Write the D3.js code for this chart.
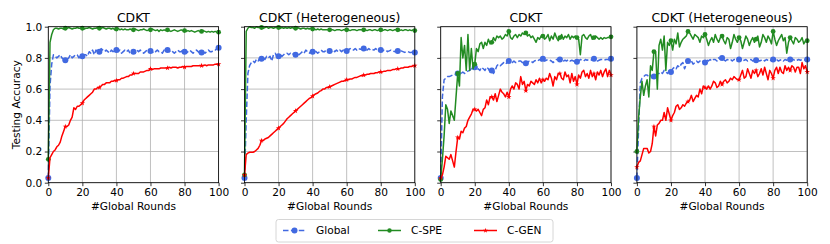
<!DOCTYPE html>
<html>
<head>
<meta charset="utf-8">
<script src="https://cdn.jsdelivr.net/npm/d3@7"></script>
<style>
  body { margin: 0; background: #fff; }
  svg text { font-family: "DejaVu Sans", sans-serif; fill: #000; }
</style>
</head>
<body>
<svg id="svg" width="830" height="244"></svg>
<script>
// rounds 0..100
const rounds = d3.range(0, 101);
const titles = ["CDKT", "CDKT (Heterogeneous)", "CDKT", "CDKT (Heterogeneous)"];
const xTicks = [0, 20, 40, 60, 80, 100];
const yTicks = [0.0, 0.2, 0.4, 0.6, 0.8, 1.0];
const seriesNames = ["Global", "C-SPE", "C-GEN"];

// panel 1 : CDKT
const p1Global = [0.03,0.62,0.76,0.82,0.81,0.80,0.81,0.82,0.80,0.79,
  0.785,0.79,0.80,0.82,0.80,0.81,0.82,0.82,0.80,0.81,
  0.81,0.82,0.82,0.81,0.84,0.83,0.85,0.82,0.85,0.84,
  0.84,0.86,0.85,0.84,0.85,0.84,0.83,0.85,0.84,0.85,
  0.85,0.84,0.85,0.83,0.84,0.85,0.84,0.85,0.83,0.84,
  0.84,0.83,0.85,0.84,0.85,0.84,0.83,0.84,0.85,0.84,
  0.845,0.84,0.83,0.84,0.85,0.84,0.84,0.83,0.85,0.84,
  0.85,0.84,0.85,0.84,0.83,0.84,0.85,0.84,0.84,0.85,
  0.84,0.83,0.84,0.85,0.84,0.83,0.84,0.85,0.84,0.83,
  0.835,0.84,0.83,0.84,0.85,0.84,0.84,0.85,0.85,0.86,
  0.865];
const p1Spe = [0.15,0.90,0.95,0.98,0.99,0.99,0.985,0.99,0.99,0.985,
  0.99,0.99,0.995,0.99,0.985,0.99,0.99,0.995,0.99,0.99,
  0.99,0.985,0.99,0.99,0.995,0.99,0.985,0.99,0.99,0.995,
  0.99,0.99,0.995,0.99,0.985,0.99,0.99,0.985,0.99,0.98,
  0.985,0.99,0.98,0.985,0.98,0.985,0.98,0.98,0.985,0.98,
  0.98,0.985,0.98,0.975,0.98,0.98,0.985,0.98,0.975,0.98,
  0.98,0.985,0.98,0.975,0.98,0.97,0.98,0.975,0.98,0.975,
  0.98,0.975,0.97,0.975,0.98,0.975,0.97,0.975,0.98,0.975,
  0.975,0.97,0.975,0.97,0.975,0.97,0.965,0.97,0.975,0.97,
  0.97,0.975,0.97,0.965,0.97,0.965,0.97,0.965,0.97,0.965,
  0.965];
const p1Gen = [0.03,0.16,0.18,0.20,0.21,0.23,0.24,0.26,0.30,0.33,
  0.36,0.36,0.37,0.40,0.42,0.48,0.47,0.49,0.49,0.50,
  0.51,0.53,0.54,0.55,0.56,0.57,0.58,0.60,0.60,0.61,
  0.61,0.62,0.63,0.63,0.64,0.64,0.64,0.65,0.65,0.655,
  0.655,0.66,0.66,0.67,0.67,0.675,0.68,0.68,0.69,0.69,
  0.70,0.70,0.70,0.70,0.71,0.71,0.71,0.715,0.72,0.72,
  0.73,0.725,0.73,0.73,0.73,0.73,0.735,0.735,0.735,0.735,
  0.735,0.74,0.735,0.74,0.74,0.74,0.735,0.74,0.74,0.745,
  0.74,0.745,0.745,0.745,0.745,0.75,0.75,0.75,0.75,0.75,
  0.75,0.75,0.755,0.75,0.755,0.755,0.755,0.755,0.76,0.76,
  0.76];

// panel 2 : CDKT (Heterogeneous)
const p2Global = [0.03,0.40,0.70,0.75,0.77,0.78,0.77,0.79,0.78,0.80,
  0.795,0.80,0.79,0.81,0.80,0.81,0.78,0.82,0.83,0.81,
  0.81,0.82,0.81,0.82,0.83,0.83,0.82,0.83,0.82,0.83,
  0.82,0.83,0.82,0.83,0.84,0.83,0.85,0.84,0.83,0.84,
  0.84,0.85,0.84,0.83,0.84,0.85,0.84,0.84,0.85,0.84,
  0.845,0.84,0.85,0.84,0.85,0.84,0.85,0.84,0.85,0.845,
  0.845,0.85,0.86,0.85,0.85,0.86,0.85,0.86,0.855,0.86,
  0.86,0.855,0.85,0.86,0.85,0.855,0.85,0.86,0.85,0.85,
  0.85,0.845,0.85,0.85,0.84,0.845,0.85,0.845,0.84,0.845,
  0.845,0.84,0.845,0.84,0.835,0.84,0.84,0.835,0.835,0.84,
  0.835];
const p2Spe = [0.05,0.97,0.99,1.00,0.995,0.995,0.99,1.00,0.995,0.995,
  0.995,0.99,0.995,1.00,0.99,0.995,0.995,0.99,0.995,0.995,
  0.995,0.99,0.995,0.99,0.995,0.99,0.995,0.99,0.995,0.99,
  0.99,0.995,0.99,0.985,0.99,0.99,0.985,0.99,0.985,0.99,
  0.985,0.985,0.98,0.985,0.98,0.985,0.98,0.98,0.98,0.98,
  0.98,0.98,0.98,0.975,0.98,0.98,0.98,0.975,0.98,0.98,
  0.98,0.98,0.975,0.98,0.98,0.98,0.975,0.98,0.98,0.98,
  0.98,0.98,0.975,0.98,0.98,0.975,0.98,0.98,0.975,0.98,
  0.98,0.975,0.98,0.98,0.975,0.98,0.98,0.975,0.98,0.98,
  0.98,0.975,0.98,0.975,0.98,0.98,0.975,0.98,0.975,0.98,
  0.975];
const p2Gen = [0.05,0.18,0.19,0.195,0.195,0.195,0.20,0.21,0.22,0.24,
  0.27,0.27,0.28,0.285,0.29,0.30,0.31,0.32,0.33,0.34,
  0.35,0.36,0.37,0.38,0.395,0.41,0.42,0.43,0.44,0.45,
  0.46,0.47,0.48,0.49,0.50,0.51,0.52,0.53,0.54,0.545,
  0.555,0.565,0.57,0.575,0.585,0.59,0.60,0.60,0.61,0.61,
  0.615,0.62,0.625,0.63,0.635,0.64,0.645,0.65,0.65,0.655,
  0.66,0.66,0.665,0.665,0.67,0.675,0.675,0.68,0.685,0.685,
  0.69,0.69,0.695,0.695,0.70,0.70,0.70,0.705,0.705,0.71,
  0.71,0.71,0.715,0.715,0.72,0.72,0.72,0.725,0.725,0.73,
  0.73,0.73,0.735,0.735,0.74,0.74,0.74,0.745,0.745,0.75,
  0.75];

// panel 3 : CDKT
const p3Global = [0.03,0.55,0.66,0.67,0.68,0.68,0.685,0.69,0.69,0.695,
  0.70,0.69,0.70,0.71,0.70,0.71,0.715,0.72,0.73,0.72,
  0.74,0.72,0.73,0.72,0.74,0.73,0.72,0.74,0.73,0.71,
  0.72,0.70,0.72,0.75,0.76,0.75,0.76,0.77,0.76,0.77,
  0.78,0.77,0.77,0.78,0.77,0.77,0.78,0.78,0.77,0.76,
  0.765,0.77,0.78,0.78,0.77,0.78,0.785,0.78,0.79,0.78,
  0.795,0.78,0.785,0.79,0.785,0.78,0.77,0.78,0.79,0.79,
  0.79,0.785,0.78,0.785,0.78,0.79,0.78,0.785,0.78,0.775,
  0.775,0.78,0.79,0.785,0.78,0.79,0.785,0.79,0.79,0.785,
  0.795,0.79,0.78,0.785,0.79,0.79,0.785,0.79,0.79,0.79,
  0.795];
const p3Spe = [0.02,0.15,0.30,0.50,0.47,0.38,0.46,0.43,0.40,0.55,
  0.70,0.62,0.93,0.80,0.88,0.72,0.95,0.72,0.86,0.73,
  0.76,0.86,0.84,0.89,0.90,0.86,0.90,0.88,0.92,0.89,
  0.90,0.93,0.91,0.94,0.93,0.94,0.92,0.93,0.95,0.94,
  0.97,0.93,0.92,0.94,0.95,0.93,0.95,0.94,0.96,0.95,
  0.96,0.94,0.95,0.93,0.94,0.92,0.90,0.93,0.92,0.94,
  0.94,0.92,0.93,0.95,0.91,0.94,0.92,0.96,0.93,0.91,
  0.93,0.95,0.92,0.94,0.93,0.95,0.92,0.94,0.93,0.94,
  0.93,0.92,0.82,0.94,0.95,0.93,0.92,0.94,0.95,0.92,
  0.93,0.94,0.93,0.92,0.93,0.92,0.93,0.925,0.93,0.93,
  0.935];
const p3Gen = [0.03,0.05,0.10,0.17,0.16,0.15,0.18,0.14,0.10,0.20,
  0.29,0.28,0.33,0.32,0.35,0.36,0.40,0.42,0.44,0.47,
  0.47,0.46,0.47,0.45,0.43,0.47,0.48,0.53,0.50,0.55,
  0.55,0.53,0.57,0.52,0.56,0.60,0.58,0.57,0.55,0.58,
  0.55,0.60,0.62,0.60,0.64,0.63,0.60,0.68,0.63,0.65,
  0.59,0.63,0.62,0.65,0.64,0.63,0.66,0.64,0.67,0.64,
  0.66,0.65,0.67,0.66,0.70,0.67,0.62,0.68,0.66,0.70,
  0.70,0.67,0.66,0.71,0.68,0.69,0.64,0.70,0.65,0.68,
  0.63,0.69,0.67,0.71,0.72,0.68,0.70,0.67,0.72,0.68,
  0.70,0.66,0.71,0.69,0.72,0.68,0.71,0.73,0.68,0.72,
  0.69];

// panel 4 : CDKT (Heterogeneous)
const p4Global = [0.03,0.35,0.64,0.67,0.68,0.69,0.69,0.68,0.69,0.67,
  0.68,0.69,0.70,0.70,0.71,0.70,0.72,0.71,0.70,0.72,
  0.71,0.73,0.74,0.73,0.75,0.74,0.76,0.77,0.73,0.76,
  0.78,0.77,0.78,0.76,0.77,0.78,0.77,0.78,0.77,0.78,
  0.77,0.79,0.78,0.79,0.78,0.79,0.79,0.78,0.80,0.79,
  0.80,0.79,0.78,0.79,0.785,0.79,0.78,0.79,0.79,0.78,
  0.79,0.79,0.78,0.785,0.79,0.78,0.785,0.79,0.78,0.785,
  0.785,0.79,0.78,0.785,0.79,0.78,0.79,0.785,0.79,0.78,
  0.79,0.785,0.79,0.78,0.785,0.79,0.78,0.79,0.785,0.79,
  0.79,0.785,0.79,0.78,0.785,0.79,0.785,0.79,0.79,0.785,
  0.79];
const p4Spe = [0.20,0.42,0.55,0.65,0.56,0.62,0.66,0.55,0.75,0.72,
  0.84,0.84,0.60,0.88,0.92,0.85,0.94,0.72,0.90,0.88,
  0.91,0.85,0.92,0.89,0.96,0.87,0.90,0.92,0.93,0.94,
  0.97,0.96,0.94,0.92,0.95,0.94,0.93,0.90,0.94,0.93,
  0.95,0.92,0.88,0.91,0.93,0.90,0.95,0.92,0.90,0.93,
  0.94,0.91,0.89,0.93,0.92,0.86,0.90,0.95,0.92,0.90,
  0.93,0.91,0.86,0.90,0.94,0.92,0.88,0.91,0.93,0.90,
  0.92,0.94,0.87,0.90,0.95,0.93,0.90,0.94,0.92,0.89,
  0.97,0.92,0.88,0.91,0.93,0.95,0.91,0.93,0.83,0.90,
  0.93,0.91,0.89,0.93,0.92,0.90,0.91,0.93,0.89,0.91,
  0.91];
const p4Gen = [0.10,0.13,0.14,0.18,0.22,0.22,0.22,0.19,0.20,0.25,
  0.36,0.30,0.37,0.38,0.40,0.40,0.45,0.40,0.48,0.44,
  0.40,0.43,0.45,0.49,0.50,0.47,0.48,0.50,0.49,0.51,
  0.52,0.53,0.56,0.52,0.54,0.56,0.55,0.60,0.57,0.62,
  0.61,0.60,0.62,0.60,0.62,0.65,0.64,0.61,0.62,0.65,
  0.63,0.65,0.66,0.64,0.65,0.67,0.66,0.68,0.67,0.66,
  0.66,0.69,0.72,0.67,0.68,0.73,0.70,0.67,0.72,0.70,
  0.72,0.68,0.70,0.73,0.69,0.74,0.70,0.66,0.72,0.70,
  0.67,0.72,0.74,0.70,0.74,0.71,0.70,0.75,0.72,0.74,
  0.72,0.75,0.74,0.71,0.74,0.74,0.70,0.77,0.73,0.75,
  0.71];

const panelData = [
  [p1Global, p1Spe, p1Gen],
  [p2Global, p2Spe, p2Gen],
  [p3Global, p3Spe, p3Gen],
  [p4Global, p4Spe, p4Gen]
];

const colors = ["#4169e1", "#228b22", "#ff0000"];
const svg = d3.select("#svg");

const panelLeft = 48.3, panelW = 170.3, panelGap = 25.9;
const plotTop = 26.7, plotBottom = 182.7;

const y = d3.scaleLinear().domain([0, 1]).range([plotBottom, plotTop]);

for (let p = 0; p < panelData.length; p++) {
  let x0 = panelLeft + p * (panelW + panelGap);
  let x = d3.scaleLinear().domain([0, 100]).range([x0, x0 + panelW]);
  let g = svg.append("g");

  // grid
  g.selectAll(".vg").data(xTicks).enter().append("line")
    .attr("x1", d => x(d)).attr("x2", d => x(d)).attr("y1", plotTop).attr("y2", plotBottom)
    .attr("stroke", "#b0b0b0").attr("stroke-width", 0.8);
  g.selectAll(".hg").data(yTicks).enter().append("line")
    .attr("x1", x0).attr("x2", x0 + panelW).attr("y1", d => y(d)).attr("y2", d => y(d))
    .attr("stroke", "#b0b0b0").attr("stroke-width", 0.8);

  // axes
  let xAxis = d3.axisBottom(x).tickValues(xTicks).tickSize(3.5).tickPadding(2.5).tickFormat(d3.format("d"));
  let gx = g.append("g").attr("transform", "translate(0," + plotBottom + ")").call(xAxis);
  gx.select(".domain").remove();
  gx.selectAll("text").style("font-size", "10.6px").style("font-family", "DejaVu Sans");

  let yAxis = d3.axisLeft(y).tickValues(yTicks).tickSize(3.5).tickPadding(2.5)
    .tickFormat(p == 0 ? d3.format(".1f") : "");
  let gy = g.append("g").attr("transform", "translate(" + x0 + ",0)").call(yAxis);
  gy.select(".domain").remove();
  gy.selectAll("text").style("font-size", "10.6px").style("font-family", "DejaVu Sans");
  g.selectAll(".tick line").attr("stroke-width", 0.8);

  // lines
  for (let s = 0; s < 3; s++) {
    let vals = panelData[p][s];
    let line = d3.line().x((d, i) => x(rounds[i])).y(d => y(d));
    let path = g.append("path").datum(vals).attr("d", line)
      .attr("fill", "none").attr("stroke", colors[s]).attr("stroke-width", 1.5)
      .attr("stroke-linejoin", "round");
    if (s == 0) path.attr("stroke-dasharray", "5.5,2.4");

    let marks = vals.map((v, i) => ({ r: rounds[i], v: v })).filter(d => d.r % 10 == 0);
    if (s < 2) {
      g.selectAll(".m" + s).data(marks).enter().append("circle")
        .attr("cx", d => x(d.r)).attr("cy", d => y(d.v)).attr("r", s == 0 ? 3 : 2.4)
        .attr("fill", colors[s]);
    } else {
      g.selectAll(".m" + s).data(marks).enter().append("path")
        .attr("d", d3.symbol().type(d3.symbolStar).size(9))
        .attr("transform", d => "translate(" + x(d.r) + "," + y(d.v) + ")")
        .attr("fill", colors[s]);
    }
  }

  // frame
  g.append("rect").attr("x", x0).attr("y", plotTop).attr("width", panelW).attr("height", plotBottom - plotTop)
    .attr("fill", "none").attr("stroke", "#000").attr("stroke-width", 0.8);

  g.append("text").attr("x", x0 + panelW / 2).attr("y", 21.6).attr("text-anchor", "middle")
    .style("font-size", "12.4px").text(titles[p]);
  g.append("text").attr("x", x0 + panelW / 2).attr("y", 210).attr("text-anchor", "middle")
    .style("font-size", "10.6px").text("#Global Rounds");
}

svg.append("text").attr("transform", "translate(20,104.7) rotate(-90)")
  .attr("text-anchor", "middle").style("font-size", "10.6px").text("Testing Accuracy");

// legend
svg.append("rect").attr("x", 276).attr("y", 219.5).attr("width", 277).attr("height", 22.5)
  .attr("rx", 2.5).attr("fill", "#fff").attr("stroke", "#cccccc").attr("stroke-width", 0.8);
const legX = [283, 378, 474];
for (let s = 0; s < 3; s++) {
  let lx = legX[s], ly = 230.5;
  let ln = svg.append("line").attr("x1", lx).attr("x2", lx + 23).attr("y1", ly).attr("y2", ly)
    .attr("stroke", colors[s]).attr("stroke-width", 1.5);
  if (s == 0) ln.attr("stroke-dasharray", "5.5,2.4");
  if (s < 2) {
    svg.append("circle").attr("cx", lx + 11.5).attr("cy", ly).attr("r", s == 0 ? 3 : 2.2).attr("fill", colors[s]);
  } else {
    svg.append("path").attr("d", d3.symbol().type(d3.symbolStar).size(8))
      .attr("transform", "translate(" + (lx + 11.5) + "," + ly + ")").attr("fill", colors[s]);
  }
  svg.append("text").attr("x", lx + 33).attr("y", 234.4).style("font-size", "10.6px").text(seriesNames[s]);
}
</script>
</body>
</html>
